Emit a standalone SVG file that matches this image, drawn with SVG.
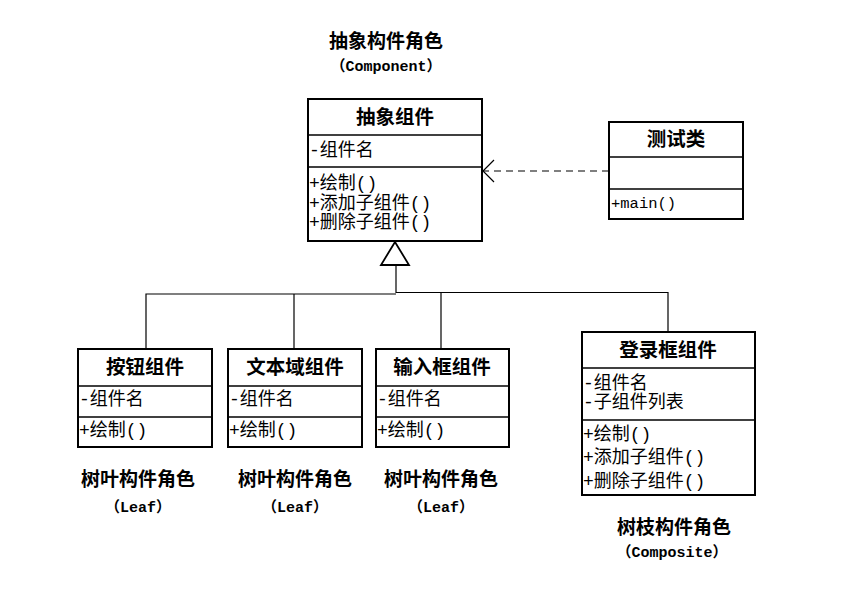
<svg xmlns="http://www.w3.org/2000/svg" width="858" height="616" viewBox="0 0 858 616">
<style>
.box{fill:#fff;stroke:#000;stroke-width:2}
.sep{stroke:#000;stroke-width:1.6}
.ln{fill:none;stroke:#000;stroke-width:1.2}
.t{font-family:"Noto Sans CJK SC","Liberation Serif",serif;font-size:19.5px;font-weight:bold;text-anchor:middle;fill:#000}
.a{font-family:"Liberation Mono","Noto Sans CJK SC",monospace;font-size:18px;fill:#000}
.m{font-family:"Liberation Mono",monospace;font-size:15.5px;fill:#000}
.lab{font-family:"Noto Sans CJK SC","Liberation Serif",serif;font-size:19px;font-weight:bold;text-anchor:middle;fill:#000}
.en{font-family:"Liberation Mono","Noto Sans CJK SC",monospace;font-size:15px;font-weight:bold;text-anchor:middle;fill:#000}
.fw{font-family:"Noto Sans CJK SC",sans-serif;font-weight:bold}
</style>
<rect width="858" height="616" fill="#fff"/>

<g id="label-component">
<text class="lab" x="386" y="48">抽象构件角色</text>
<text class="en" x="386" y="71"><tspan class="fw">（</tspan>Component<tspan class="fw">）</tspan></text>
</g>

<g id="component">
<rect class="box" x="308" y="99" width="174" height="142"/>
<line class="sep" x1="308" y1="135" x2="482" y2="135"/>
<line class="sep" x1="308" y1="167" x2="482" y2="167"/>
<text class="t" x="395" y="124">抽象组件</text>
<text class="a" x="309" y="156">-组件名</text>
<text class="a" x="309" y="189">+绘制()</text>
<text class="a" x="309" y="209">+添加子组件()</text>
<text class="a" x="309" y="228">+删除子组件()</text>
</g>

<g id="test">
<rect class="box" x="609" y="122" width="134" height="97"/>
<line class="sep" x1="609" y1="157" x2="743" y2="157"/>
<line class="sep" x1="609" y1="189" x2="743" y2="189"/>
<text class="t" x="676" y="146">测试类</text>
<text class="m" x="611" y="208">+main()</text>
</g>

<g id="button">
<rect class="box" x="78" y="349" width="134" height="98"/>
<line class="sep" x1="78" y1="386" x2="212" y2="386"/>
<line class="sep" x1="78" y1="417" x2="212" y2="417"/>
<text class="t" x="145" y="374">按钮组件</text>
<text class="a" x="79" y="405">-组件名</text>
<text class="a" x="79" y="436">+绘制()</text>
</g>

<g id="textarea">
<rect class="box" x="228" y="349" width="134" height="98"/>
<line class="sep" x1="228" y1="386" x2="362" y2="386"/>
<line class="sep" x1="228" y1="417" x2="362" y2="417"/>
<text class="t" x="295" y="374">文本域组件</text>
<text class="a" x="229" y="405">-组件名</text>
<text class="a" x="229" y="436">+绘制()</text>
</g>

<g id="input">
<rect class="box" x="376" y="349" width="133" height="98"/>
<line class="sep" x1="376" y1="386" x2="509" y2="386"/>
<line class="sep" x1="376" y1="417" x2="509" y2="417"/>
<text class="t" x="442" y="374">输入框组件</text>
<text class="a" x="377" y="405">-组件名</text>
<text class="a" x="377" y="436">+绘制()</text>
</g>

<g id="login">
<rect class="box" x="582" y="332" width="173" height="163"/>
<line class="sep" x1="582" y1="368" x2="755" y2="368"/>
<line class="sep" x1="582" y1="420" x2="755" y2="420"/>
<text class="t" x="668" y="357">登录框组件</text>
<text class="a" x="583" y="389">-组件名</text>
<text class="a" x="583" y="408">-子组件列表</text>
<text class="a" x="583" y="440">+绘制()</text>
<text class="a" x="583" y="463">+添加子组件()</text>
<text class="a" x="583" y="487">+删除子组件()</text>
</g>

<g id="leaf-labels">
<text class="lab" x="138" y="486">树叶构件角色</text>
<text class="en" x="138" y="512"><tspan class="fw">（</tspan>Leaf<tspan class="fw">）</tspan></text>
<text class="lab" x="295" y="486">树叶构件角色</text>
<text class="en" x="295" y="512"><tspan class="fw">（</tspan>Leaf<tspan class="fw">）</tspan></text>
<text class="lab" x="441" y="486">树叶构件角色</text>
<text class="en" x="441" y="512"><tspan class="fw">（</tspan>Leaf<tspan class="fw">）</tspan></text>
</g>

<g id="label-composite">
<text class="lab" x="674" y="534">树枝构件角色</text>
<text class="en" x="672" y="557"><tspan class="fw">（</tspan>Composite<tspan class="fw">）</tspan></text>
</g>

<g id="connectors">
<line class="ln" x1="609" y1="171" x2="483" y2="171" stroke-dasharray="7,5"/>
<polyline class="ln" points="494,160 483,171 494,182"/>
<polygon points="395,242 381,265 409,265" fill="#fff" stroke="#000" stroke-width="1.8"/>
<line class="ln" x1="396" y1="265" x2="396" y2="293"/>
<polyline class="ln" points="146,349 146,294 396,294"/>
<line class="ln" x1="294" y1="294" x2="294" y2="349"/>
<polyline class="ln" points="396,292.5 668,292.5 668,332"/>
<line class="ln" x1="441" y1="293" x2="441" y2="349"/>
</g>
</svg>
